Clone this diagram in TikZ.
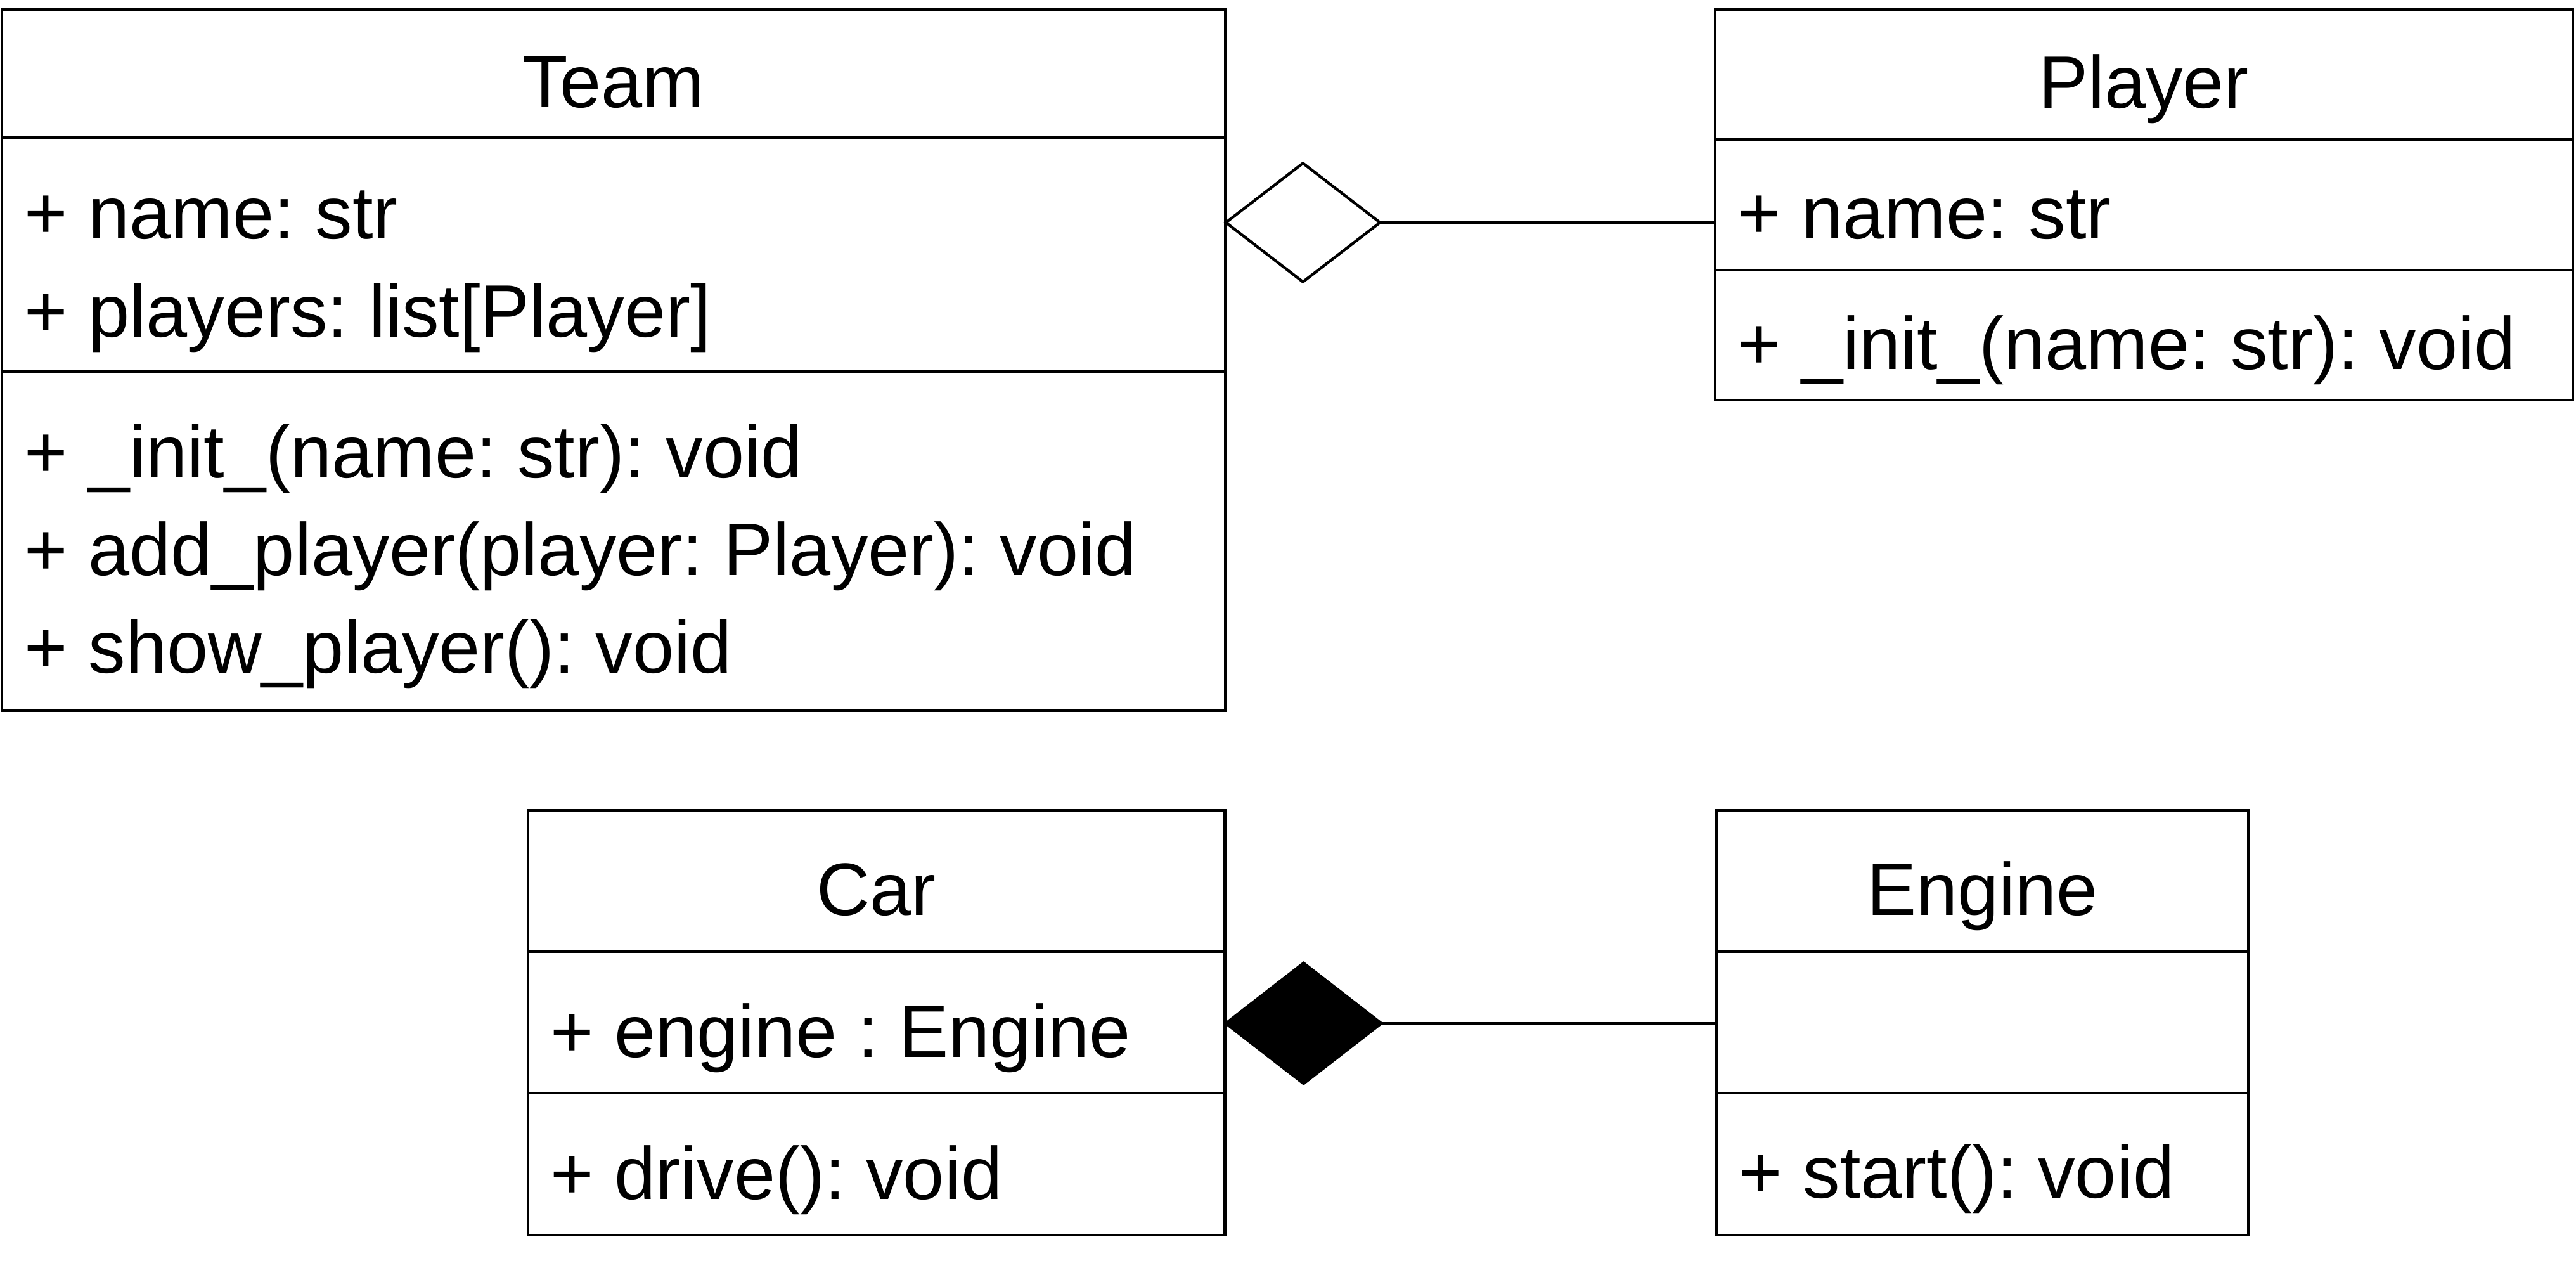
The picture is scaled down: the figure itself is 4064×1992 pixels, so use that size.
\documentclass[tikz,border=0pt]{standalone}
\usepackage{fontspec}
\setmainfont{Liberation Sans}
\usetikzlibrary{shapes.geometric}
\frenchspacing
\begin{document}
\frenchspacing
\begin{tikzpicture}[x=0.01cm,y=-0.01cm,
  compart/.style={draw, line width=1.25pt, rectangle, inner sep=0pt, outer sep=0pt, anchor=north west},
  hd/.style={font=\fontsize{33.3}{40}\selectfont, inner sep=0pt, anchor=base},
  ln/.style={font=\fontsize{33.3}{40}\selectfont, inner sep=0pt, anchor=base west},
  link/.style={draw, line width=1.25pt},
  dia/.style={diamond, draw, line width=1.25pt, inner sep=0pt, outer sep=0pt, anchor=west}]
\useasboundingbox (0,0) rectangle (4064,1992);
\fill[white] (0,0) rectangle (4064,1992);
% Team
\node[compart, minimum width=19.29cm, minimum height=2.02cm] (teamH) at (3,15) {};
\node[compart, minimum width=19.29cm, minimum height=3.69cm] (teamA) at (3,217) {};
\node[compart, minimum width=19.29cm, minimum height=5.34cm] (teamM) at (3,586) {};
\node[hd] (teamT) at (967.5,170) {Team};
\node[ln] (teamA1) at (38,377) {+ name: str};
\node[ln] (teamA2) at (38,532) {+ players: list[Player]};
\node[ln] (teamM1) at (38,754) {+ \_init\_(name: str): void};
\node[ln] (teamM2) at (38,907) {+ add\_player(player: Player): void};
\node[ln] (teamM3) at (38,1061) {+ show\_player(): void};
% Player
\node[compart, minimum width=13.52cm, minimum height=2.05cm] (playerH) at (2706,15) {};
\node[compart, minimum width=13.52cm, minimum height=2.06cm] (playerA) at (2706,220) {};
\node[compart, minimum width=13.52cm, minimum height=2.05cm] (playerM) at (2706,426) {};
\node[hd] (playerT) at (3382,171) {Player};
\node[ln] (playerA1) at (2741,377) {+ name: str};
\node[ln] (playerM1) at (2741,583) {+ \_init\_(name: str): void};
% Car
\node[compart, minimum width=10.99cm, minimum height=2.23cm] (carH) at (833,1278) {};
\node[compart, minimum width=10.99cm, minimum height=2.23cm] (carA) at (833,1501) {};
\node[compart, minimum width=10.99cm, minimum height=2.24cm] (carM) at (833,1724) {};
\node[hd] (carT) at (1382.5,1443) {Car};
\node[ln] (carA1) at (868,1667) {+ engine : Engine};
\node[ln] (carM1) at (868,1891) {+ drive(): void};
% Engine
\node[compart, minimum width=8.39cm, minimum height=2.23cm] (engineH) at (2708,1278) {};
\node[compart, minimum width=8.39cm, minimum height=2.23cm] (engineA) at (2708,1501) {};
\node[compart, minimum width=8.39cm, minimum height=2.24cm] (engineM) at (2708,1724) {};
\node[hd] (engineT) at (3127.5,1443) {Engine};
\node[ln] (engineM1) at (2743,1889) {+ start(): void};
% Aggregation
\node[dia, fill=white, minimum width=2.43cm, minimum height=1.87cm] (agg) at (1934,351) {};
\draw[link] (agg.east) -- (agg.east -| playerA.west);
% Composition
\node[dia, fill=black, minimum width=2.45cm, minimum height=1.9cm] (cmp) at (1934,1614) {};
\draw[link] (cmp.east) -- (cmp.east -| engineA.west);
\end{tikzpicture}
\end{document}
